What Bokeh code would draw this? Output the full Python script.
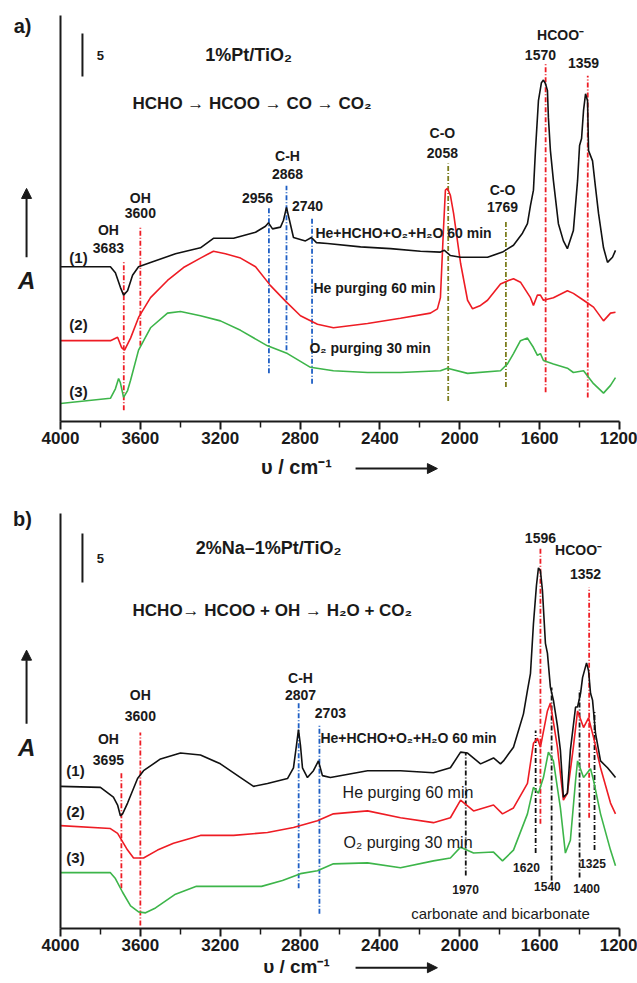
from bokeh.plotting import figure
from bokeh.models import Range1d, FixedTicker, ColumnDataSource, Arrow, NormalHead
from bokeh.layouts import column
from bokeh.embed import file_html
from bokeh.resources import INLINE
from bokeh.core.properties import value

FONT = "Liberation Sans"
INK = "#1a1a1a"
BLACK = "#111111"
RED = "#ee1c24"
GREEN = "#3db54a"
BLUE = "#1f5fc4"
OLIVE = "#7b7d1e"

tick_values = [4000, 3600, 3200, 2800, 2400, 2000, 1600, 1200]
minor_tick_values = [3800, 3400, 3000, 2600, 2200, 1800, 1400]

# ---------------- panel a data ----------------
a1_wn = [4000,3750,3725,3700,3684,3664,3639,3609,3549,3424,3299,3234,3133,3023,2973,2958,2938,2898,2883,2868,
         2853,2833,2773,2743,2718,2663,2497,2347,2197,2097,2077,2047,1996,1861,1786,1731,1686,1661,1646,1631,
         1621,1606,1591,1581,1571,1561,1556,1546,1531,1506,1481,1461,1431,1410,1400,1390,1380,1370,1360,1355,
         1335,1320,1305,1280,1260,1235,1220]
a1_ab = [18.0,18.0,17.3,15.6,14.7,15.2,17.0,18.0,18.5,19.5,20.2,21.3,21.3,22.0,22.7,23.1,22.4,22.6,23.4,24.9,
         23.4,21.4,21.0,21.4,20.8,20.7,20.3,20.1,19.8,19.7,19.9,19.3,19.1,19.1,19.7,20.5,21.9,23.0,25.1,26.9,
         31.5,37.3,39.4,39.7,39.3,38.5,35.3,31.5,28.0,23.0,21.0,20.1,22.2,28.0,32.1,32.9,36.2,38.1,37.3,31.5,
         30.3,27.2,24.2,20.2,18.5,19.1,19.9]
a2_wn = [4000,3750,3714,3694,3679,3649,3609,3549,3464,3384,3299,3234,3174,3098,3023,2948,2873,2798,2713,2633,
         2462,2297,2147,2112,2097,2082,2072,2062,2047,2031,1996,1961,1936,1896,1861,1796,1756,1731,1696,1646,
         1631,1611,1596,1581,1531,1461,1431,1380,1330,1280,1245,1220]
a2_ab = [9.4,9.4,9.8,8.6,8.3,9.7,12.1,14.4,16.4,17.9,19.0,19.8,19.5,19.0,18.0,15.8,14.0,12.3,11.3,10.9,
         11.4,12.0,12.6,13.1,14.4,22.2,26.9,27.1,26.3,24.2,18.4,14.1,13.1,13.5,14.1,16.0,16.4,16.6,16.2,14.4,
         13.5,14.7,14.7,14.1,14.4,15.2,14.9,14.1,13.3,11.7,12.6,12.7]
a3_wn = [4000,3750,3725,3709,3700,3684,3664,3649,3609,3549,3464,3399,3299,3199,3098,2963,2863,2748,2633,2462,
         2297,2097,2062,1961,1796,1761,1731,1696,1661,1631,1611,1596,1581,1531,1461,1431,1380,1330,1280,1245,1220]
a3_ab = [2.1,2.7,3.8,5.0,4.5,2.8,3.6,4.8,8.3,10.9,12.6,12.8,12.3,11.7,10.6,8.8,7.9,6.3,5.9,5.7,
         5.7,5.9,6.2,5.6,5.9,6.7,7.9,9.4,9.7,8.6,7.7,7.9,7.1,6.7,6.2,5.7,5.9,4.4,3.3,4.2,5.1]

a_red_mark_wn = [3683, 3600, 1570, 1359]
a_red_mark_top = [18.7, 22.6, 41.6, 40.2]
a_red_mark_bot = [1.3, 8.8, 3.4, 2.8]
a_blue_mark_wn = [2956, 2868, 2740]
a_blue_mark_top = [24.9, 27.4, 23.7]
a_blue_mark_bot = [5.6, 8.3, 4.4]
a_olive_mark_wn = [2058, 1769]
a_olive_mark_top = [30.0, 23.4]
a_olive_mark_bot = [2.4, 4.0]

a_peak_txt = ["OH","3683","OH","3600","2956","C-H","2868","2740","C-O","2058","C-O","1769","HCOO\u207b","1570","1359"]
a_peak_x = [3760,3760,3600,3600,3013,2863,2863,2763,2087,2087,1786,1786,1495,1596,1380]
a_peak_y = [22.3,20.2,26.0,24.2,26.0,30.9,28.8,25.1,33.6,31.2,26.9,24.9,44.9,42.6,41.7]

a_cond_txt = ["He+HCHO+O\u2082+H\u2082O 60 min", "He purging 60 min", "O\u2082  purging 30 min"]
a_cond_x = [2723, 2733, 2753]
a_cond_y = [21.9, 15.5, 8.6]

curve_txt = ["(1)", "(2)", "(3)"]
a_curve_y = [19.1, 11.3, 3.5]

# ---------------- panel b data ----------------
b1_wn = [4000,3800,3735,3714,3700,3689,3664,3614,3584,3499,3399,3299,3199,3098,3033,2963,2863,2833,2818,2808,
         2798,2788,2763,2733,2708,2688,2648,2462,2297,2132,2047,1996,1961,1896,1831,1796,1781,1731,1681,1661,
         1646,1631,1616,1606,1596,1586,1571,1561,1546,1531,1511,1496,1481,1461,1446,1420,1410,1395,1385,1365,
         1355,1345,1335,1320,1295,1260,1235,1220]
b1_ab = [14.5,14.4,13.4,12.6,11.5,11.7,12.8,15.3,16.1,17.3,17.9,17.7,16.8,15.4,14.5,14.8,15.3,16.4,18.7,20.3,
         18.7,16.4,15.4,16.1,17.1,15.6,15.4,16.1,16.1,15.9,16.4,18.0,17.9,16.8,17.4,16.8,17.1,18.5,21.9,24.3,
         26.0,31.1,35.0,36.8,36.5,34.5,29.1,28.1,24.6,23.3,20.7,18.2,13.4,13.8,18.2,22.6,22.6,24.0,25.6,27.1,
         26.3,24.0,23.3,19.9,17.1,16.4,15.8,15.4]
b2_wn = [4000,3750,3714,3664,3634,3584,3514,3434,3299,3133,2963,2833,2713,2633,2462,2297,2132,2047,1996,1931,
         1831,1786,1731,1661,1631,1611,1596,1561,1546,1511,1481,1461,1431,1410,1380,1355,1330,1295,1245,1220]
b2_ab = [10.5,10.2,9.7,8.0,7.2,7.2,8.0,8.7,9.5,9.5,9.8,10.3,11.0,11.7,12.0,11.3,10.8,11.3,13.1,12.0,
         12.6,11.7,12.3,14.8,18.9,19.4,18.5,22.2,23.0,18.5,13.1,13.8,18.5,22.2,20.5,21.5,19.5,16.4,12.8,11.7]
b3_wn = [4000,3750,3725,3689,3649,3609,3574,3524,3424,3319,3179,2993,2888,2798,2713,2633,2462,2297,2132,2047,
         1996,1931,1831,1786,1731,1661,1631,1606,1581,1556,1531,1496,1471,1446,1420,1410,1380,1345,1330,1295,
         1245,1220]
b3_ab = [5.7,5.7,5.1,3.7,2.3,1.7,1.6,2.1,3.5,4.3,4.3,4.3,4.9,5.6,5.9,6.6,6.7,6.2,6.9,7.2,
         8.3,7.7,7.8,6.9,8.0,11.7,14.4,13.8,15.4,18.0,17.1,12.3,7.7,9.0,15.1,17.1,15.4,16.3,15.1,11.7,
         8.0,6.4]

b_red_mark_wn = [3695, 3600, 1596, 1352]
b_red_mark_top = [15.9, 20.0, 38.8, 34.8]
b_red_mark_bot = [4.1, 0.3, 10.7, 11.3]
b_blue_mark_wn = [2807, 2703]
b_blue_mark_top = [23.1, 20.9]
b_blue_mark_bot = [4.1, 1.5]
b_black_mark_wn = [1970, 1620, 1540, 1400, 1325]
b_black_mark_top = [18.0, 20.2, 24.6, 24.3, 22.2]
b_black_mark_bot = [5.4, 7.7, 4.9, 5.2, 8.0]

b_peak_txt = ["OH","3695","OH","3600","C-H","2807","2703","1596","HCOO\u207b","1352"]
b_peak_x = [3760,3760,3600,3600,2798,2798,2648,1596,1405,1370]
b_peak_y = [19.3,17.2,23.8,21.7,25.6,23.8,22.0,39.8,38.6,36.2]

b_small_txt = ["1970", "1620", "1540", "1400", "1325"]
b_small_x = [1971, 1666, 1561, 1365, 1335]
b_small_y = [4.0, 6.2, 4.3, 4.1, 6.6]

b_cond_txt = ["He+HCHO+O\u2082+H\u2082O 60 min", "He purging 60 min", "O\u2082  purging 30 min"]
b_cond_x = [2698, 2587, 2582]
b_cond_y = [19.4, 13.9, 8.8]
b_curve_y = [16.1, 11.9, 7.2]

X_VIEW = (4300.5, 1109.8)   # visible wavenumber span of each canvas (axis itself runs 4000-1200)


def base_fig(height, y_view, y_axis_top):
    p = figure(width=637, height=height, output_backend="svg", toolbar_location=None,
               x_range=Range1d(*X_VIEW), y_range=Range1d(*y_view),
               min_border_left=0, min_border_right=0, min_border_top=0, min_border_bottom=0)
    p.grid.visible = False
    p.outline_line_color = None
    p.background_fill_color = "white"
    p.border_fill_color = "white"
    xa = p.xaxis[0]
    xa.fixed_location = 0
    xa.bounds = (1200, 4000)
    xa.ticker = FixedTicker(ticks=tick_values, minor_ticks=minor_tick_values)
    xa.axis_line_width = 2
    xa.axis_line_color = INK
    xa.major_tick_line_width = 2
    xa.major_tick_line_color = INK
    xa.minor_tick_line_width = 1.5
    xa.minor_tick_line_color = INK
    xa.major_tick_out = 8
    xa.major_tick_in = 0
    xa.minor_tick_out = 6
    xa.minor_tick_in = 0
    xa.major_label_text_font = FONT
    xa.major_label_text_font_size = "17px"
    xa.major_label_text_font_style = "bold"
    xa.major_label_text_color = INK
    xa.major_label_standoff = 2
    ya = p.yaxis[0]
    ya.fixed_location = 4000
    ya.bounds = (0, y_axis_top)
    ya.axis_line_width = 2
    ya.axis_line_color = INK
    ya.major_tick_line_color = None
    ya.minor_tick_line_color = None
    ya.major_label_text_font_size = "0px"
    ya.major_label_text_color = None
    return p


def texts(p, xs, ys, txt, size, style="bold", align="center"):
    src = ColumnDataSource(dict(x=xs, y=ys, t=txt))
    p.text(x="x", y="y", text="t", source=src, text_font=value(FONT), text_font_size=size,
           text_font_style=style, text_align=align, text_baseline="middle", text_color=INK)


def marks(p, wn, top, bot, color):
    src = ColumnDataSource(dict(x=wn, y0=bot, y1=top))
    p.segment(x0="x", y0="y0", x1="x", y1="y1", source=src, line_color=color,
              line_width=1.8, line_dash="5 2 1 2")


def arrow(p, x0, y0, x1, y1):
    p.add_layout(Arrow(end=NormalHead(size=10, fill_color=INK, line_color=INK),
                       x_start=x0, y_start=y0, x_end=x1, y_end=y1,
                       line_width=2, line_color=INK))


# ---------------- panel a ----------------
pa = base_fig(490, (-8.02, 48.95), 47.2)
marks(pa, a_red_mark_wn, a_red_mark_top, a_red_mark_bot, RED)
marks(pa, a_blue_mark_wn, a_blue_mark_top, a_blue_mark_bot, BLUE)
marks(pa, a_olive_mark_wn, a_olive_mark_top, a_olive_mark_bot, OLIVE)
pa.line(a3_wn, a3_ab, line_color=GREEN, line_width=1.6)
pa.line(a2_wn, a2_ab, line_color=RED, line_width=1.6)
pa.line(a1_wn, a1_ab, line_color=BLACK, line_width=1.6)
pa.segment(x0=[3890], y0=[40.1], x1=[3890], y1=[45.1], line_color=INK, line_width=2)
texts(pa, [3800], [42.6], ["5"], "13px")
texts(pa, [3058], [42.6], ["1%Pt/TiO\u2082"], "18px")
texts(pa, [3639], [37.0], ["HCHO \u2192 HCOO \u2192 CO \u2192 CO\u2082"], "17px", align="left")
texts(pa, a_peak_x, a_peak_y, a_peak_txt, "14px")
texts(pa, a_cond_x, a_cond_y, a_cond_txt, "14px", align="left")
texts(pa, [3910] * 3, a_curve_y, curve_txt, "15px")
texts(pa, [4190], [46.0], ["a)"], "20px")
arrow(pa, 4170, 19.1, 4170, 27.1)
texts(pa, [4170], [16.4], ["A"], "24px", style="bold italic")
texts(pa, [2818], [-5.23], ["\u03c5 / cm\u207b\u00b9"], "20px")
arrow(pa, 2522, -5.47, 2112, -5.47)

# ---------------- panel b ----------------
pb = base_fig(493, (-5.61, 44.69), 42.35)
marks(pb, b_red_mark_wn, b_red_mark_top, b_red_mark_bot, RED)
marks(pb, b_blue_mark_wn, b_blue_mark_top, b_blue_mark_bot, BLUE)
marks(pb, b_black_mark_wn, b_black_mark_top, b_black_mark_bot, BLACK)
pb.line(b3_wn, b3_ab, line_color=GREEN, line_width=1.6)
pb.line(b2_wn, b2_ab, line_color=RED, line_width=1.6)
pb.line(b1_wn, b1_ab, line_color=BLACK, line_width=1.6)
pb.segment(x0=[3890], y0=[35.3], x1=[3890], y1=[40.3], line_color=INK, line_width=2)
texts(pb, [3800], [37.8], ["5"], "13px")
texts(pb, [2958], [38.8], ["2%Na\u20131%Pt/TiO\u2082"], "18px")
texts(pb, [3639], [32.4], ["HCHO\u2192  HCOO + OH \u2192 H\u2082O + CO\u2082"], "17px", align="left")
texts(pb, b_peak_x, b_peak_y, b_peak_txt, "14px")
texts(pb, b_small_x, b_small_y, b_small_txt, "12px")
texts(pb, [1796], [1.5], ["carbonate and bicarbonate"], "15px", style="normal")
texts(pb, b_cond_x[:1], b_cond_y[:1], b_cond_txt[:1], "14px", align="left")
texts(pb, b_cond_x[1:], b_cond_y[1:], b_cond_txt[1:], "16px", style="normal", align="left")
texts(pb, [3925] * 3, b_curve_y, curve_txt, "15px")
texts(pb, [4190], [41.8], ["b)"], "20px")
arrow(pb, 4170, 20.9, 4170, 28.4)
texts(pb, [4170], [18.5], ["A"], "24px", style="bold italic")
texts(pb, [2818], [-3.85], ["\u03c5 / cm\u207b\u00b9"], "19px")
arrow(pb, 2522, -4.0, 2112, -4.0)

layout = column(pa, pb, spacing=0)
open("out.html", "w").write(file_html(layout, INLINE))
